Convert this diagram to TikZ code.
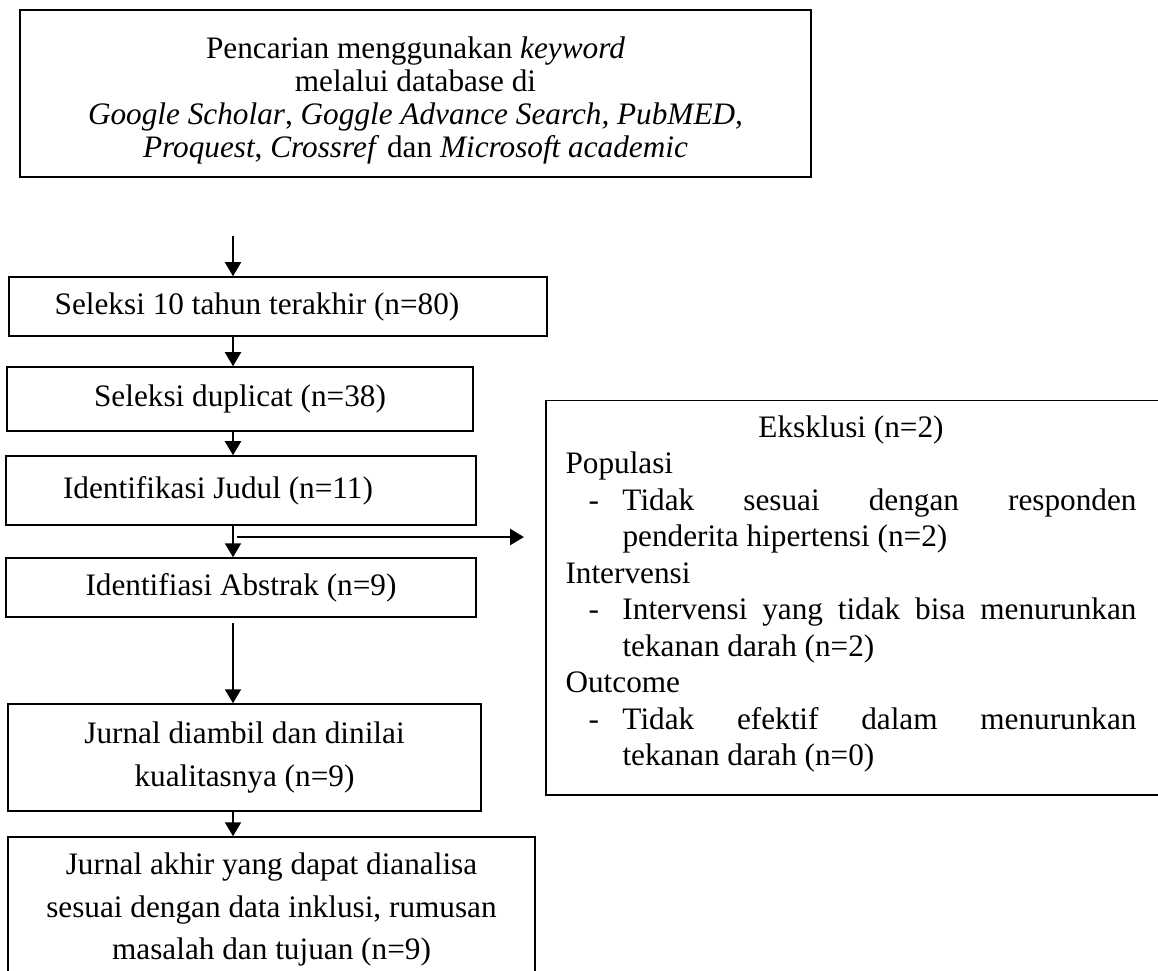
\documentclass[tikz,border=0pt]{standalone}
\usepackage{fontspec}
\setmainfont{Liberation Serif}
\usetikzlibrary{arrows.meta}

% dash item with hanging indent for the exclusion list
\newcommand{\exdash}{\hangindent=22.8pt\hangafter=1\makebox[22.8pt][l]{\hspace{9.2pt}-}}

\begin{document}
\begin{tikzpicture}[x=0.4pt, y=-0.4pt,
  box/.style={draw, line width=0.6pt, align=center, inner sep=0pt,
    font=\fontsize{12.5}{14.4}\selectfont},
  flow/.style={line width=0.8pt, -{Triangle[length=5.6pt, width=6.4pt]}}]
  \useasboundingbox (0,0) rectangle (1158,971);
  \clip (0,0) rectangle (1158,971);

  % Search box
  \node[box, line width=1pt, minimum width=316.4pt, minimum height=66.8pt,
    font=\fontsize{12.5}{13.2}\selectfont] (search) at (415.5,93.5)
    {\rule{0pt}{14pt}Pencarian menggunakan \textit{keyword}\\
     melalui database di\\
     \textit{Google Scholar}, \textit{Goggle Advance Search, PubMED,}\\
     \textit{Proquest}, \textit{Crossref} dan \textit{Microsoft academic}};

  % Selection steps
  \node[box, minimum width=215.2pt, minimum height=23.6pt] (tenyear) at (278,306.5)
    {Seleksi 10 tahun terakhir (n=80)\hspace*{16.8pt}};
  \node[box, minimum width=186.4pt, minimum height=25.6pt] (dupl) at (240,399)
    {Seleksi duplicat (n=38)};
  \node[box, minimum width=188pt, minimum height=27.6pt] (title) at (241,490.5)
    {Identifikasi Judul (n=11)\hspace*{18.4pt}};
  \node[box, minimum width=188pt, minimum height=23.6pt] (abstr) at (241,587.5)
    {Identifiasi Abstrak (n=9)};
  \node[box, minimum width=189.2pt, minimum height=42.8pt,
    font=\fontsize{12.5}{17.2}\selectfont] (quality) at (244.5,757.5)
    {Jurnal diambil dan dinilai\\ kualitasnya (n=9)};
  \node[box, minimum width=210.8pt, minimum height=58pt,
    font=\fontsize{12.5}{17}\selectfont] (final) at (271.5,909.5)
    {Jurnal akhir yang dapat dianalisa\\ sesuai dengan data inklusi, rumusan\\ masalah dan tujuan (n=9)};

  % Exclusion box
  \node[draw, line width=0.6pt, anchor=north west, minimum width=252pt,
    minimum height=157.6pt, inner sep=0pt] (excl) at (545,400) {};
  \node[anchor=base west, text width=228.4pt, align=justify, inner sep=0pt,
    font=\fontsize{12.5}{14.6}\selectfont] (excltext) at (565,437)
    {\setlength{\parindent}{0pt}%
     {\centering Eksklusi (n=2)\par}
     Populasi\par
     \exdash Tidak sesuai dengan responden\linebreak penderita hipertensi (n=2)\par
     Intervensi\par
     \exdash Intervensi yang tidak bisa menurunkan\linebreak tekanan darah (n=2)\par
     Outcome\par
     \exdash Tidak efektif dalam menurunkan\linebreak tekanan darah (n=0)\par};

  % Arrows
  \coordinate (spine) at (233,236);
  \draw[flow, line width=0.6pt] (spine) -- (tenyear.north -| spine);
  \draw[flow] (tenyear.south -| spine) -- (dupl.north -| spine);
  \draw[flow] (dupl.south -| spine) -- (title.north -| spine);
  \draw[flow] (title.south -| spine) -- (abstr.north -| spine);
  \draw[flow, shorten <=2pt] (abstr.south -| spine) -- (quality.north -| spine);
  \draw[flow] (quality.south -| spine) -- (final.north -| spine);

  \coordinate (split) at (237,537);
  \coordinate (exin) at (524,537);
  \draw[flow, line width=1pt] (split) -- (exin);
\end{tikzpicture}
\end{document}
